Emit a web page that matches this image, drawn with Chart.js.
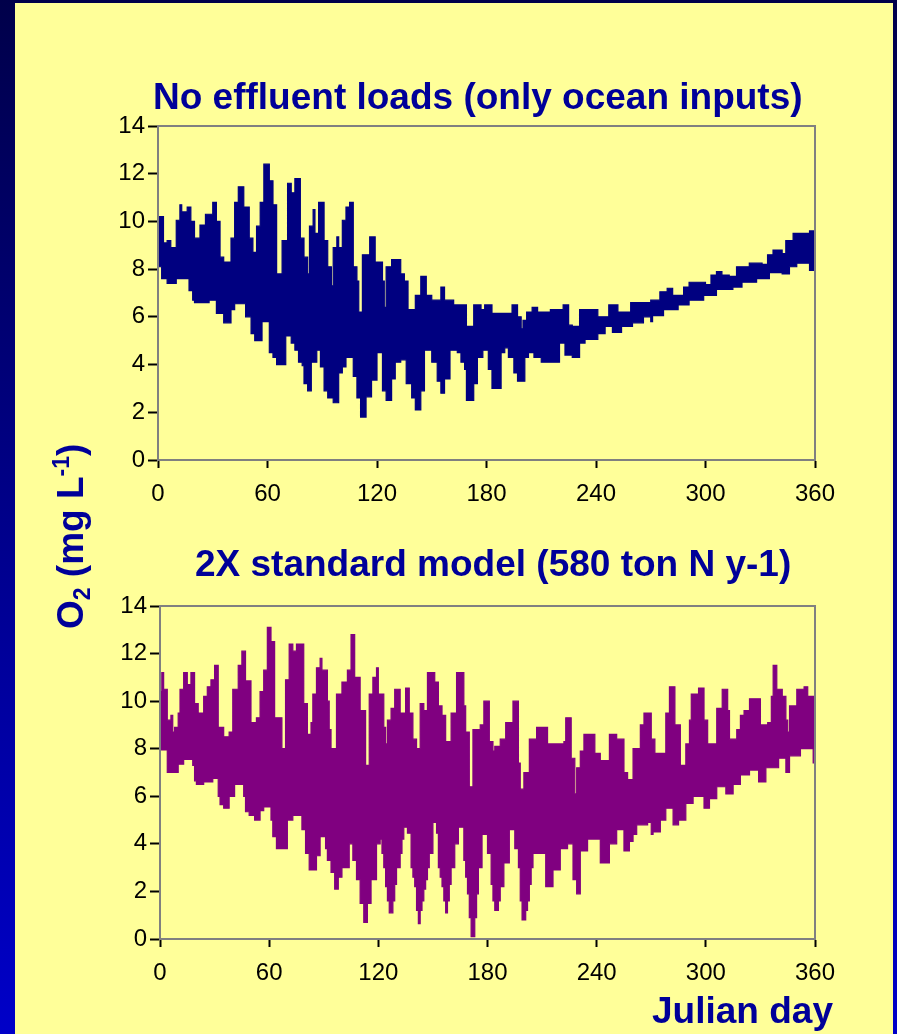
<!DOCTYPE html>
<html><head><meta charset="utf-8">
<script src="https://cdn.jsdelivr.net/npm/chart.js@4.4.1/dist/chart.umd.min.js"></script>
<style>
html,body{margin:0;padding:0;}
body{width:897px;height:1034px;overflow:hidden;position:relative;background:linear-gradient(to bottom,#00004a 0%,#000090 55%,#0000c8 100%);font-family:"Liberation Sans",Arial,sans-serif;}
#panel{position:absolute;left:15px;top:3px;width:878px;height:1031px;background:#ffff99;}
canvas{position:absolute;left:0;}
#c1{top:0;width:897px;height:520px;}
#c2{top:520px;width:897px;height:514px;}
.t{position:absolute;white-space:nowrap;font-weight:bold;font-size:37px;line-height:37px;color:#000099;}
</style></head><body>
<div id="panel"></div>
<canvas id="c1" width="897" height="520"></canvas>
<canvas id="c2" width="897" height="514"></canvas>
<div class="t" style="left:153px;top:78px">No effluent loads (only ocean inputs)</div>
<div class="t" style="left:195px;top:545px">2X standard model (580 ton N y-1)</div>
<div class="t" style="left:652px;top:992px">Julian day</div>
<div class="t" style="left:52px;top:629px;transform-origin:0 0;transform:rotate(-90deg)">O<span style="font-size:23px;vertical-align:-7px;line-height:0">2</span> (mg L<span style="font-size:23px;vertical-align:14px;line-height:0">-1</span>)</div>
<script>
// [Julian day, O2 mg/L] breakpoints of the daily max / min envelopes (value holds until next day listed)
const topHigh = [[0,10.2],[3,9.1],[5,9.2],[7,8.9],[10,10.05],[12,10.7],[13,10.4],[16,10.6],[18,10.0],[20,9.3],[23,9.85],[26,10.3],[30,10.8],[32,10.0],[34,8.5],[36,8.3],[40,9.3],[42,10.8],[44,11.45],[47,10.6],[50,9.3],[52,8.7],[54,9.8],[56,10.8],[58,12.4],[61,11.7],[63,10.7],[65,7.8],[68,9.2],[71,11.6],[73,11.2],[75,11.8],[78,9.3],[80,8.5],[82,7.8],[83,9.8],[85,10.5],[86,9.5],[88,10.8],[91,9.2],[93,8.1],[95,7.3],[96,8.9],[98,9.35],[99,8.9],[101,10.05],[103,10.6],[105,10.8],[107,8.1],[109,7.5],[110,6.2],[112,8.6],[116,9.35],[119,8.3],[123,7.5],[124,6.4],[125,8.1],[128,8.4],[133,7.8],[135,7.5],[137,6.3],[141,6.9],[144,7.7],[147,6.9],[150,6.7],[155,7.25],[157,6.7],[162,6.5],[169,5.6],[173,6.5],[177,6.3],[179,6.5],[183,6.15],[194,6.5],[197,6.0],[199,5.5],[200,5.85],[202,6.2],[205,6.4],[208,6.2],[215,6.3],[222,6.5],[225,5.65],[227,5.6],[231,6.3],[241,6.0],[247,6.5],[252,6.2],[259,6.6],[270,6.7],[275,7.05],[279,7.2],[282,6.9],[288,7.25],[291,7.45],[300,7.35],[303,7.75],[306,7.9],[309,7.75],[313,7.7],[317,8.1],[324,8.25],[331,8.2],[334,8.6],[337,8.8],[342,8.65],[344,9.2],[348,9.5],[357,9.6],[360,9.6]];
const topLow = [[0,8.1],[2,7.6],[5,7.4],[10,7.6],[17,7.1],[19,6.7],[20,6.6],[28,6.7],[32,6.15],[36,5.75],[40,6.3],[42,6.55],[48,6.0],[51,5.3],[53,5.0],[57,5.8],[61,4.5],[63,4.3],[65,4.0],[70,5.2],[73,4.9],[75,4.6],[77,4.1],[79,3.95],[80,3.2],[82,2.9],[84,4.1],[87,4.6],[89,3.9],[91,2.9],[93,2.6],[96,2.4],[99,3.65],[101,3.9],[103,4.3],[107,3.5],[109,2.6],[111,1.8],[114,2.65],[117,3.35],[120,4.5],[123,2.9],[125,2.5],[128,3.4],[130,4.1],[133,4.2],[136,3.2],[139,2.6],[141,2.1],[144,2.9],[146,4.6],[150,4.1],[153,3.3],[155,2.8],[157,3.4],[160,4.6],[164,4.5],[166,4.1],[168,3.8],[169,2.5],[173,3.2],[175,4.3],[178,4.6],[181,3.8],[183,3.0],[188,4.5],[190,4.7],[192,4.3],[195,3.65],[197,3.3],[201,4.3],[203,4.5],[206,4.3],[210,4.1],[220,4.9],[223,4.4],[227,4.3],[231,4.9],[234,5.05],[241,5.3],[245,5.6],[249,5.35],[254,5.6],[260,5.75],[266,6.0],[270,5.8],[271,6.05],[277,6.3],[285,6.5],[291,6.7],[299,6.9],[306,7.15],[315,7.25],[320,7.45],[328,7.6],[335,7.85],[342,7.8],[346,8.1],[350,8.25],[357,7.95],[360,7.95]];
const botHigh = [[0,10.4],[1,11.2],[2,10.5],[4,9.2],[6,9.4],[7,8.7],[8,8.9],[10,9.5],[11,10.5],[13,11.2],[15,10.7],[17,11.2],[19,9.9],[21,9.5],[24,10.2],[26,10.6],[28,10.9],[30,11.5],[32,8.9],[35,8.5],[38,8.7],[40,10.5],[43,11.5],[45,12.1],[47,10.85],[50,9.1],[53,9.3],[55,10.4],[57,11.3],[59,13.1],[61,12.5],[63,9.3],[67,8.0],[69,10.9],[71,12.4],[73,12.1],[75,12.4],[79,9.9],[81,8.6],[83,9.1],[84,10.3],[86,11.4],[88,11.8],[89,11.3],[92,10.0],[93,8.8],[94,8.0],[97,10.3],[100,10.8],[103,11.3],[105,12.8],[107,11.0],[110,9.6],[113,7.3],[115,10.3],[117,11.0],[119,11.4],[120,10.3],[123,8.9],[124,8.2],[125,9.2],[127,9.7],[129,10.5],[132,9.5],[135,10.55],[137,9.5],[139,8.4],[141,8.0],[143,9.9],[145,9.6],[147,11.2],[151,10.8],[153,9.8],[155,9.4],[157,8.3],[160,9.5],[163,11.2],[167,9.8],[168,8.7],[170,6.4],[172,8.8],[176,9.0],[178,10.0],[181,8.3],[183,7.9],[184,8.1],[187,8.4],[190,9.1],[194,10.0],[197,7.4],[198,6.3],[200,7.0],[203,8.4],[207,8.9],[213,8.2],[222,8.3],[223,9.3],[226,7.6],[228,6.1],[229,7.2],[231,7.9],[233,8.6],[239,7.8],[242,7.5],[247,8.6],[251,8.4],[255,7.0],[257,6.7],[260,8.0],[264,9.0],[266,9.5],[270,8.4],[272,7.8],[278,9.5],[280,10.6],[283,9.0],[286,7.3],[289,8.2],[291,9.2],[292,10.3],[296,10.55],[299,9.2],[301,8.2],[306,9.7],[309,10.5],[312,9.6],[313,8.4],[317,8.8],[319,9.4],[321,9.6],[324,10.1],[330,9.0],[334,9.1],[336,10.2],[337,11.5],[339,10.5],[342,10.2],[344,9.2],[345,8.7],[346,9.8],[350,10.5],[354,10.6],[356,10.2],[360,10.2]];
const botLow = [[0,7.95],[4,7.0],[10,7.35],[13,7.55],[18,7.3],[19,6.65],[20,6.5],[24,6.6],[29,6.75],[32,6.0],[33,5.65],[35,5.5],[38,6.0],[41,6.5],[46,6.0],[47,5.35],[49,5.2],[52,5.0],[55,5.4],[57,5.55],[61,5.0],[62,4.3],[64,3.8],[70,5.0],[73,5.2],[78,4.6],[80,3.6],[82,2.9],[86,3.5],[88,4.3],[91,3.8],[92,3.3],[94,2.8],[96,2.1],[98,2.6],[100,3.0],[104,4.0],[106,3.3],[108,2.5],[110,1.5],[112,0.7],[114,1.5],[116,2.5],[119,4.0],[121,4.2],[122,3.6],[123,3.0],[124,2.2],[125,1.6],[126,1.1],[128,1.6],[129,2.3],[130,3.0],[132,3.6],[133,4.2],[134,4.7],[136,4.45],[138,3.0],[139,2.6],[140,2.2],[141,1.2],[142,0.65],[143,1.2],[144,1.6],[145,2.1],[146,2.5],[147,3.0],[148,3.6],[150,4.9],[152,4.45],[153,3.0],[154,2.6],[155,2.2],[156,1.6],[157,1.1],[158,1.6],[159,2.3],[160,3.0],[162,4.0],[164,4.7],[167,3.3],[168,2.6],[169,1.9],[170,0.9],[171,0.1],[173,0.9],[174,1.9],[175,3.0],[177,4.4],[180,3.6],[182,2.3],[183,1.6],[184,1.2],[186,1.6],[187,2.2],[189,3.2],[192,4.6],[195,3.8],[197,3.0],[198,1.6],[199,0.8],[201,1.2],[202,1.6],[203,2.3],[204,3.0],[205,3.6],[212,2.2],[216,2.9],[220,3.8],[224,4.0],[227,2.5],[229,1.9],[231,3.7],[235,4.2],[242,3.2],[247,4.0],[251,4.6],[255,3.7],[258,4.1],[260,4.4],[262,4.8],[268,4.9],[270,4.4],[271,4.5],[275,5.0],[278,5.5],[282,4.8],[285,5.0],[289,5.7],[293,6.0],[299,5.5],[302,5.9],[306,6.4],[311,6.1],[315,6.5],[319,6.9],[324,7.1],[329,6.6],[333,7.2],[340,7.6],[344,7.0],[346,7.7],[352,8.0],[359,7.4],[360,7.4]];
const xTickValues = [0, 60, 120, 180, 240, 300, 360];
const yTickValues = [0, 2, 4, 6, 8, 10, 12, 14];

const FONT = '"Liberation Sans", Arial, sans-serif';
const YELLOW = '#ffff99';
const frame = {id:'frame', afterDraw(c){const {ctx, chartArea:a} = c; ctx.save(); ctx.strokeStyle='#808080'; ctx.lineWidth=2; ctx.strokeRect(a.left, a.top, a.right-a.left, a.bottom-a.top); ctx.restore();}};

// each breakpoint value holds until the next breakpoint (step function)
function stepPoints(arr){
  const out = [];
  for (let i = 0; i < arr.length; i++){
    out.push({x:arr[i][0], y:arr[i][1]});
    if (i < arr.length - 1) out.push({x:arr[i+1][0], y:arr[i][1]});
  }
  return out;
}

function makeChart(id, hi, lo, color, padTop, axisW, axisH){
  return new Chart(document.getElementById(id), {
    type:'line',
    data:{datasets:[
      {data:stepPoints(lo), borderColor:color, borderWidth:1.2, backgroundColor:YELLOW, fill:'origin', pointRadius:0, tension:0},
      {data:stepPoints(hi), borderColor:color, borderWidth:1.2, backgroundColor:color, fill:'origin', pointRadius:0, tension:0}
    ]},
    options:{
      responsive:false, animation:false, devicePixelRatio:1,
      layout:{padding:{left:0, right:82, top:padTop, bottom:0}},
      plugins:{legend:{display:false}, tooltip:{enabled:false}, title:{display:false}},
      scales:{
        x:{type:'linear', min:0, max:360,
           afterBuildTicks:s => { s.ticks = xTickValues.map(v => ({value:v})); },
           afterFit:s => { s.height = axisH; },
           grid:{drawOnChartArea:false, drawTicks:true, tickLength:8, tickWidth:2, tickColor:'#000'},
           border:{color:'#808080', width:2},
           ticks:{color:'#000', font:{family:FONT, size:24}, padding:12, maxRotation:0, autoSkip:false}},
        y:{type:'linear', min:0, max:14,
           afterBuildTicks:s => { s.ticks = yTickValues.map(v => ({value:v})); },
           afterFit:s => { s.width = axisW; },
           grid:{drawOnChartArea:false, drawTicks:true, tickLength:10, tickWidth:2, tickColor:'#000'},
           border:{color:'#808080', width:2},
           ticks:{color:'#000', font:{family:FONT, size:24}, padding:3}}
      }
    },
    plugins:[frame]
  });
}
makeChart('c1', topHigh, topLow, '#000080', 126, 158, 60);
makeChart('c2', botHigh, botLow, '#800080', 86, 160, 95);
</script>
</body></html>
